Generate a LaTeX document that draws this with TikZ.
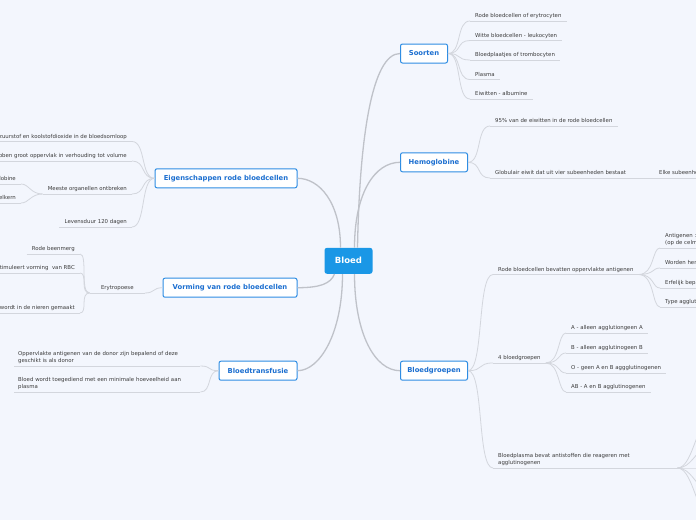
\documentclass[tikz,border=0pt]{standalone}
\usepackage{fontspec}
\setmainfont{DejaVu Sans}
\usepackage{xcolor}
\usetikzlibrary{positioning,calc}

\definecolor{pagebg}{HTML}{F3F6FD}
\definecolor{rootfill}{HTML}{1A97E6}
\definecolor{topicline}{HTML}{2E8DE3}
\definecolor{topicink}{HTML}{1C6FD0}
\definecolor{branchgrey}{HTML}{BFC2C9}
\definecolor{twiggrey}{HTML}{D3D6DD}
\definecolor{leafink}{HTML}{3C3C3C}

\tikzset{
  root/.style={fill=rootfill, rounded corners=2.5pt, text=white,
    font=\fontsize{8.5}{10}\selectfont\bfseries,
    minimum width=48pt, minimum height=26pt},
  topic/.style={draw=topicline, line width=1pt, fill=white, rounded corners=2pt,
    text=topicink, font=\fontsize{6.8}{8}\selectfont\bfseries, minimum height=19pt},
  twig/.style={draw=twiggrey, line width=0.8pt},
  branch/.style={draw=branchgrey, line width=1.3pt},
  leaf/.style={text=leafink, font=\fontsize{5.4}{7}\selectfont, align=left,
    inner xsep=5pt, inner ysep=2pt, text depth=1.2pt,
    append after command={(\tikzlastnode.south west) edge[twig] (\tikzlastnode.south east)}},
  rleaf/.style={leaf, anchor=south west},
  lleaf/.style={leaf, anchor=south east, align=right},
  twolines/.style={text depth=},
}

\begin{document}
\begin{tikzpicture}[x=1pt, y=-1pt]
  \useasboundingbox (0,0) rectangle (696,520);
  \fill[pagebg] (0,0) rectangle (696,520);
  \clip (0,0) rectangle (696,520);

  \node[root] (bloed) at (348.5,260.8) {Bloed};

  \node[topic, anchor=west, minimum width=47pt] (soorten) at (400,53.5) {Soorten};
  \node[topic, anchor=west, minimum width=67pt] (hemo) at (400,162.3) {Hemoglobine};
  \node[topic, anchor=west, minimum width=67pt] (groepen) at (400,370.7) {Bloedgroepen};
  \node[topic, anchor=east, minimum width=142pt] (eigen) at (297.5,178.3) {Eigenschappen rode bloedcellen};
  \node[topic, anchor=east, minimum width=134pt] (vorming) at (297.5,287.7) {Vorming van rode bloedcellen};
  \node[topic, anchor=east, minimum width=78pt] (transfusie) at (297.5,370.7) {Bloedtransfusie};

  % main branches
  \draw[branch] ([xshift=9pt]bloed.north) .. controls +(2,-110) and +(-28,0) .. (soorten.west);
  \draw[branch] ([xshift=6pt]bloed.north) .. controls +(0,-55) and +(-25,0) .. (hemo.west);
  \draw[branch] ([xshift=6pt]bloed.south) .. controls +(0,60) and +(-25,0) .. (groepen.west);
  \draw[branch] ([xshift=-8pt]bloed.north) .. controls +(0,-45) and +(22,0) .. (eigen.east);
  \draw[branch] ([xshift=-14pt]bloed.south) .. controls +(-4,10) and +(22,0) .. (vorming.east);
  \draw[branch] ([xshift=-6pt]bloed.south) .. controls +(0,60) and +(22,0) .. (transfusie.east);

  % Soorten
  \foreach \y/\nm/\txt in {21/so1/Rode bloedcellen of erytrocyten, 40.5/so2/Witte bloedcellen - leukocyten,
      60/so3/Bloedplaatjes of trombocyten, 79.5/so4/Plasma, 99/so5/Eiwitten - albumine}{
    \node[rleaf] (\nm) at (470,\y) {\txt};
    \draw[twig] (soorten.east) .. controls +(14,0) and +(-14,0) .. (\nm.south west);
  }

  % Hemoglobine
  \node[rleaf] (he1) at (490,126) {95\% van de eiwitten in de rode bloedcellen};
  \node[rleaf] (he2) at (490,178) {Globulair eiwit dat uit vier subeenheden bestaat};
  \node[rleaf] (he3) at (654,178) {Elke subeenheid};
  \foreach \nm in {he1,he2}
    \draw[twig] (hemo.east) .. controls +(14,0) and +(-14,0) .. (\nm.south west);
  \draw[twig] (he2.south east) -- (he3.south west);

  % Bloedgroepen
  \node[rleaf] (bg1) at (493,274.5) {Rode bloedcellen bevatten oppervlakte antigenen};
  \node[rleaf] (bg2) at (493,363) {4 bloedgroepen};
  \node[rleaf, twolines, text width=174pt] (bg3) at (493,468) {Bloedplasma bevat antistoffen die reageren met\\agglutinogenen};
  \foreach \nm in {bg1,bg2,bg3}
    \draw[twig] (groepen.east) .. controls +(16,0) and +(-16,0) .. (\nm.south west);

  \node[rleaf, twolines] (an1) at (660,248) {Antigenen :\\(op de celmembraan)};
  \foreach \y/\nm/\txt in {268/an2/Worden herkend, 288/an3/Erfelijk bepaald, 307/an4/Type agglutinogeen}
    \node[rleaf] (\nm) at (660,\y) {\txt};
  \foreach \nm in {an1,an2,an3,an4}
    \draw[twig] (bg1.south east) .. controls +(16,0) and +(-8,0) .. (\nm.south west);

  \foreach \y/\nm/\txt in {333/ab1/A - alleen agglutiongeen A, 353/ab2/B - alleen agglutinogeen B,
      373/ab3/O - geen A en B aggglutinogenen, 392/ab4/AB - A en B agglutinogenen}{
    \node[rleaf] (\nm) at (566,\y) {\txt};
    \draw[twig] (bg2.south east) .. controls +(14,0) and +(-8,0) .. (\nm.south west);
  }
  \foreach \y [count=\i] in {428,450,468,487,508}{
    \coordinate (pl\i) at (704,\y);
    \draw[twig] (bg3.south east) .. controls +(14,0) and +(-8,0) .. (pl\i);
  }

  % Eigenschappen rode bloedcellen
  \foreach \y/\nm/\txt in {141.5/ei1/zuurstof en koolstofdioxide in de bloedsomloop,
      161/ei2/hebben groot oppervlak in verhouding tot volume,
      194/ei3/Meeste organellen ontbreken, 227/ei4/Levensduur 120 dagen}{
    \node[lleaf] (\nm) at (132,\y) {\txt};
    \draw[twig] (eigen.west) .. controls +(-14,0) and +(14,0) .. (\nm.south east);
  }
  \foreach \y/\nm/\txt in {184/mo1/hemoglobine, 203/mo2/Geen celkern}{
    \node[lleaf] (\nm) at (21,\y) {\txt};
    \draw[twig] (ei3.south west) .. controls +(-12,0) and +(8,0) .. (\nm.south east);
  }

  % Vorming van rode bloedcellen
  \node[lleaf, minimum width=55pt] (ery) at (145,293) {Erytropoese};
  \draw[twig] (vorming.west) .. controls +(-10,0) and +(10,0) .. (ery.south east);
  \foreach \y/\nm/\txt in {254/er1/Rode beenmerg, 273/er2/stimuleert vorming\ \ van RBC,
      313/er3/wordt in de nieren gemaakt}{
    \node[lleaf] (\nm) at (80,\y) {\txt};
    \draw[twig] (ery.south west) .. controls +(-10,0) and +(8,0) .. (\nm.south east);
  }

  % Bloedtransfusie
  \foreach \y/\nm/\txt in {366/tr1/{Oppervlakte antigenen van de donor zijn bepalend of deze\\geschikt is als donor},
      392/tr2/{Bloed wordt toegediend met een minimale hoeveelheid aan\\plasma}}{
    \node[rleaf, twolines, inner xsep=4pt, text width=178pt] (\nm) at (14,\y) {\txt};
    \draw[twig] (transfusie.west) .. controls +(-12,0) and +(12,0) .. (\nm.south east);
  }
\end{tikzpicture}
\end{document}
